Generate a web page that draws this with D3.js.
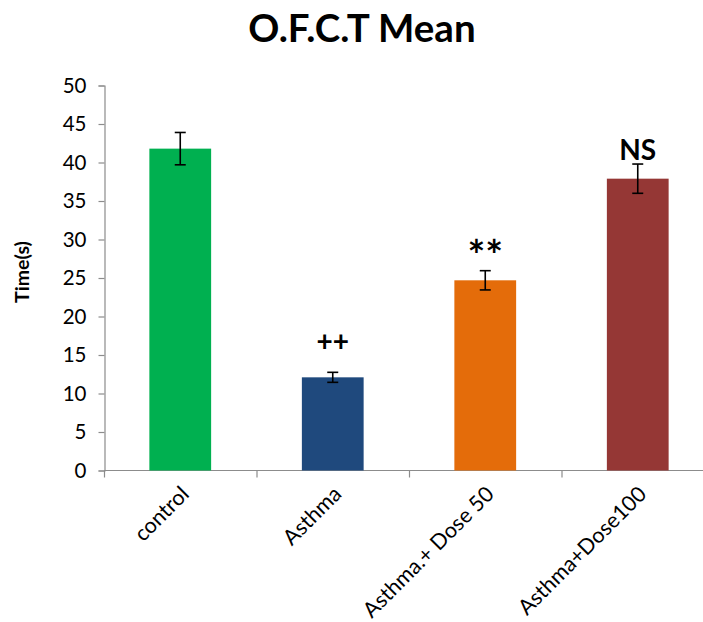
<!DOCTYPE html>
<html>
<head>
<meta charset="utf-8">
<script src="https://cdn.jsdelivr.net/npm/d3@7"></script>
<style>
  html, body { margin: 0; padding: 0; background: #fff; }
  svg { display: block; font-family: Lato, "Open Sans", "Noto Sans", sans-serif; }
</style>
</head>
<body>
<svg id="chart" width="703" height="622"></svg>
<script>
// Open-field test: mean time per group with error bars
const groups = ["control", "Asthma", "Asthma.+ Dose 50", "Asthma+Dose100"];
const means = [41.8, 12.1, 24.7, 37.9];
const errors = [2.1, 0.65, 1.25, 1.9];
const marks = ["", "++", "**", "NS"];
const colors = ["#00b050", "#1f497d", "#e46c0a", "#953735"];
const yTicks = [0, 5, 10, 15, 20, 25, 30, 35, 40, 45, 50];

const svg = d3.select("#chart");
const axisColor = "#8c8c8c";

const x = d3.scaleBand().domain(groups).range([104, 714]).paddingInner(0.595).paddingOuter(0.2975);
const y = d3.scaleLinear().domain([0, 50]).range([470.5, 85.5]);

// Title
svg.append("text")
  .attr("x", 362).attr("y", 42)
  .attr("text-anchor", "middle")
  .attr("font-size", 38.5).attr("font-weight", "bold")
  .text("O.F.C.T Mean");

// Y axis
const yAxis = svg.append("g")
  .attr("transform", "translate(104.5,0)")
  .call(d3.axisLeft(y).tickValues(yTicks).tickSize(6).tickPadding(12).tickFormat(d3.format("d")));
yAxis.select(".domain").attr("stroke", axisColor).attr("stroke-width", 1.2);
yAxis.selectAll(".tick line").attr("stroke", axisColor).attr("stroke-width", 1.2);
yAxis.selectAll(".tick text").attr("font-size", 20.5).attr("fill", "#000")
  .attr("font-family", "Lato, 'Open Sans', sans-serif");

// X axis baseline and category separators
const xAxisG = svg.append("g");
xAxisG.append("line")
  .attr("x1", 104).attr("x2", 714)
  .attr("y1", y(0)).attr("y2", y(0))
  .attr("stroke", axisColor).attr("stroke-width", 1.2);
xAxisG.selectAll("line.sep")
  .data(d3.range(groups.length + 1))
  .join("line")
  .attr("class", "sep")
  .attr("x1", i => 104.5 + i * x.step())
  .attr("x2", i => 104.5 + i * x.step())
  .attr("y1", y(0)).attr("y2", y(0) + 7)
  .attr("stroke", axisColor).attr("stroke-width", 1.2);

// Bars
svg.append("g").selectAll("rect")
  .data(groups)
  .join("rect")
  .attr("x", d => x(d))
  .attr("width", x.bandwidth())
  .attr("y", (d, i) => y(means[i]))
  .attr("height", (d, i) => y(0) - y(means[i]))
  .attr("fill", (d, i) => colors[i]);

// Error bars
const eb = svg.append("g").attr("stroke", "#000").attr("stroke-width", 1.6);
groups.forEach((g, i) => {
  const cx = x(g) + x.bandwidth() / 2;
  const top = y(means[i] + errors[i]);
  const bot = y(means[i] - errors[i]);
  eb.append("line").attr("x1", cx).attr("x2", cx).attr("y1", top).attr("y2", bot);
  eb.append("line").attr("x1", cx - 5.5).attr("x2", cx + 5.5).attr("y1", top).attr("y2", top);
  eb.append("line").attr("x1", cx - 5.5).attr("x2", cx + 5.5).attr("y1", bot).attr("y2", bot);
});

// Significance marks above error bars (glyph-dependent size and offset)
function markStyle(m) {
  if (m.includes("*")) return { size: 42, gap: 0 };
  if (m.includes("+")) return { size: 28, gap: 21 };
  return { size: 28, gap: 4 };
}
svg.append("g").selectAll("text")
  .data(groups)
  .join("text")
  .attr("x", d => x(d) + x.bandwidth() / 2)
  .attr("y", (d, i) => y(means[i] + errors[i]) - markStyle(marks[i]).gap)
  .attr("text-anchor", "middle")
  .attr("font-size", (d, i) => markStyle(marks[i]).size)
  .attr("font-weight", "bold")
  .text((d, i) => marks[i]);

// Category labels
svg.append("g").selectAll("text")
  .data(groups)
  .join("text")
  .attr("transform", d => `translate(${x(d) + x.bandwidth() / 2 + 10},${y(0) + 25}) rotate(-45)`)
  .attr("text-anchor", "end")
  .attr("font-size", 21.5)
  .text(d => d);

// Y axis title
svg.append("text")
  .attr("transform", "translate(29,272) rotate(-90)")
  .attr("text-anchor", "middle")
  .attr("font-size", 19.5).attr("font-weight", "bold")
  .text("Time(s)");
</script>
</body>
</html>
